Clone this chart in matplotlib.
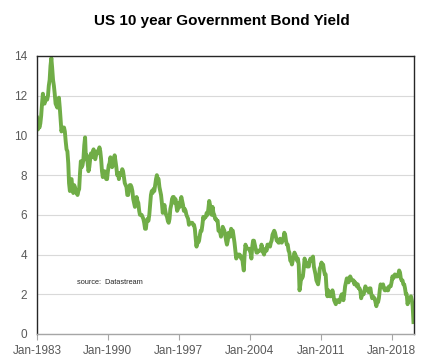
import pandas as pd
import numpy as np
import matplotlib
matplotlib.use("Agg")
import matplotlib.pyplot as plt

plt.rcParams['font.family'] = ['Liberation Sans', 'DejaVu Sans']

# monthly US 10y yield, Jan-1983 .. Mar-2020
yields = [
    10.9, 10.3, 10.5, 10.4, 10.6, 11.0, 11.6, 12.1, 11.7, 11.6, 11.8, 11.9,   # 1983
    11.8, 12.0, 12.5, 12.8, 13.5, 13.9, 13.4, 12.8, 12.5, 12.1, 11.6, 11.5,   # 1984
    11.4, 11.6, 11.9, 11.4, 10.8, 10.2, 10.4, 10.4, 10.4, 10.2, 9.7, 9.3,     # 1985
    9.2, 8.6, 7.6, 7.2, 7.8, 7.8, 7.3, 7.1, 7.5, 7.4, 7.2, 7.1,               # 1986
    7.0, 7.2, 7.3, 8.1, 8.7, 8.4, 8.5, 8.8, 9.5, 9.9, 8.8, 9.0,               # 1987
    8.6, 8.2, 8.4, 8.8, 9.1, 8.9, 9.1, 9.3, 9.0, 8.8, 9.0, 9.2,               # 1988
    9.1, 9.2, 9.4, 9.2, 8.8, 8.2, 7.9, 8.1, 8.2, 8.0, 7.8, 7.8,               # 1989
    8.2, 8.5, 8.6, 8.9, 8.7, 8.4, 8.5, 8.8, 9.0, 8.7, 8.4, 8.0,               # 1990
    8.1, 7.8, 8.1, 8.0, 8.1, 8.3, 8.2, 7.9, 7.6, 7.5, 7.4, 7.0,               # 1991
    7.0, 7.4, 7.5, 7.5, 7.4, 7.2, 6.8, 6.6, 6.4, 6.6, 6.9, 6.7,               # 1992
    6.6, 6.2, 6.0, 6.0, 6.0, 5.9, 5.8, 5.6, 5.3, 5.3, 5.7, 5.8,               # 1993
    5.7, 6.0, 6.5, 7.0, 7.2, 7.1, 7.3, 7.2, 7.5, 7.8, 8.0, 7.8,               # 1994
    7.8, 7.4, 7.2, 7.0, 6.6, 6.1, 6.3, 6.5, 6.2, 6.0, 5.9, 5.7,               # 1995
    5.6, 5.8, 6.3, 6.5, 6.8, 6.9, 6.9, 6.6, 6.8, 6.5, 6.2, 6.3,               # 1996
    6.6, 6.4, 6.7, 6.9, 6.7, 6.5, 6.2, 6.3, 6.2, 6.0, 5.9, 5.8,               # 1997
    5.5, 5.6, 5.6, 5.6, 5.6, 5.5, 5.5, 5.3, 4.8, 4.4, 4.8, 4.6,               # 1998
    4.7, 5.0, 5.2, 5.2, 5.5, 5.9, 5.8, 5.9, 5.9, 6.1, 6.0, 6.3,               # 1999
    6.7, 6.5, 6.3, 6.0, 6.4, 6.1, 6.0, 5.8, 5.8, 5.7, 5.7, 5.2,               # 2000
    5.2, 5.1, 4.9, 5.1, 5.4, 5.3, 5.2, 5.0, 4.7, 4.5, 4.7, 5.1,               # 2001
    5.0, 4.9, 5.3, 5.2, 5.2, 4.9, 4.6, 4.2, 3.8, 3.9, 4.0, 4.0,               # 2002
    4.0, 3.9, 3.8, 3.9, 3.5, 3.2, 4.0, 4.5, 4.3, 4.3, 4.3, 4.3,               # 2003
    4.2, 4.1, 3.8, 4.4, 4.7, 4.7, 4.5, 4.3, 4.1, 4.1, 4.2, 4.2,               # 2004
    4.2, 4.2, 4.5, 4.3, 4.1, 4.0, 4.2, 4.3, 4.2, 4.5, 4.5, 4.5,               # 2005
    4.4, 4.6, 4.7, 5.0, 5.1, 5.2, 5.1, 4.9, 4.7, 4.7, 4.6, 4.6,               # 2006
    4.8, 4.7, 4.6, 4.7, 4.8, 5.1, 5.0, 4.7, 4.5, 4.5, 4.2, 4.1,               # 2007
    3.7, 3.7, 3.5, 3.7, 3.9, 4.1, 4.0, 3.9, 3.7, 3.8, 3.5, 2.2,               # 2008
    2.5, 2.9, 2.8, 2.9, 3.3, 3.8, 3.6, 3.6, 3.4, 3.4, 3.4, 3.7,               # 2009
    3.8, 3.7, 3.8, 3.9, 3.4, 3.2, 3.0, 2.7, 2.6, 2.5, 2.8, 3.3,               # 2010
    3.4, 3.6, 3.4, 3.5, 3.2, 3.0, 3.0, 2.3, 1.9, 2.2, 2.0, 1.9,               # 2011
    1.9, 2.0, 2.2, 2.0, 1.7, 1.6, 1.5, 1.7, 1.7, 1.7, 1.6, 1.7,               # 2012
    1.9, 2.0, 1.9, 1.7, 2.0, 2.4, 2.6, 2.8, 2.8, 2.6, 2.7, 2.9,               # 2013
    2.8, 2.7, 2.7, 2.7, 2.5, 2.6, 2.5, 2.4, 2.5, 2.3, 2.3, 2.2,               # 2014
    1.8, 2.0, 2.0, 2.0, 2.2, 2.4, 2.3, 2.2, 2.2, 2.1, 2.3, 2.3,               # 2015
    2.0, 1.8, 1.9, 1.8, 1.8, 1.6, 1.4, 1.6, 1.6, 1.8, 2.2, 2.5,               # 2016
    2.4, 2.4, 2.5, 2.3, 2.2, 2.2, 2.3, 2.2, 2.2, 2.4, 2.4, 2.4,               # 2017
    2.6, 2.9, 2.8, 2.9, 3.0, 2.9, 2.9, 2.9, 3.0, 3.2, 3.1, 2.8,               # 2018
    2.7, 2.7, 2.5, 2.5, 2.3, 2.0, 2.0, 1.5, 1.7, 1.7, 1.8, 1.9,               # 2019
    1.7, 1.4, 0.6,                                                            # 2020
]
dates = pd.date_range("1983-01-01", periods=len(yields), freq="MS")

tick_years = [1983, 1990, 1997, 2004, 2011, 2018]
tick_labels = [f"Jan-{y}" for y in tick_years]

fig = plt.figure(figsize=(4.43, 3.63), dpi=100)
ax = fig.add_axes([37 / 443, 1 - 334 / 363, 377 / 443, 278 / 363])

ax.plot(dates, yields, color="#70AD47", lw=2.8, solid_joinstyle="round")

ax.set_xlim(pd.Timestamp("1983-01-01"), pd.Timestamp("2020-03-20"))
ax.set_ylim(0, 14)
ax.set_yticks(range(0, 15, 2))
ax.set_xticks([pd.Timestamp(f"{y}-01-01") for y in tick_years])
ax.set_xticklabels(tick_labels)

ax.grid(axis="y", color="#d9d9d9", lw=0.8)
ax.set_axisbelow(True)
ax.tick_params(axis="y", length=0, pad=7, labelsize=8.5, labelcolor="#595959")
ax.tick_params(axis="x", length=4, color="#a6a6a6", pad=4, labelsize=8.5, labelcolor="#595959")

for side in ["left", "top", "right"]:
    ax.spines[side].set_color("#262626")
    ax.spines[side].set_linewidth(1.0)
ax.spines["bottom"].set_color("#a6a6a6")
ax.spines["bottom"].set_linewidth(1.0)

ax.text(0.106, 0.187, "source:  Datastream", transform=ax.transAxes,
        fontsize=5.3, color="#262626", va="center")

fig.text(0.5, 1 - 21 / 363, "US 10 year Government Bond Yield", ha="center",
         va="center", fontsize=11, fontweight="bold", color="#000000")

fig.savefig("out.png", dpi=100)
